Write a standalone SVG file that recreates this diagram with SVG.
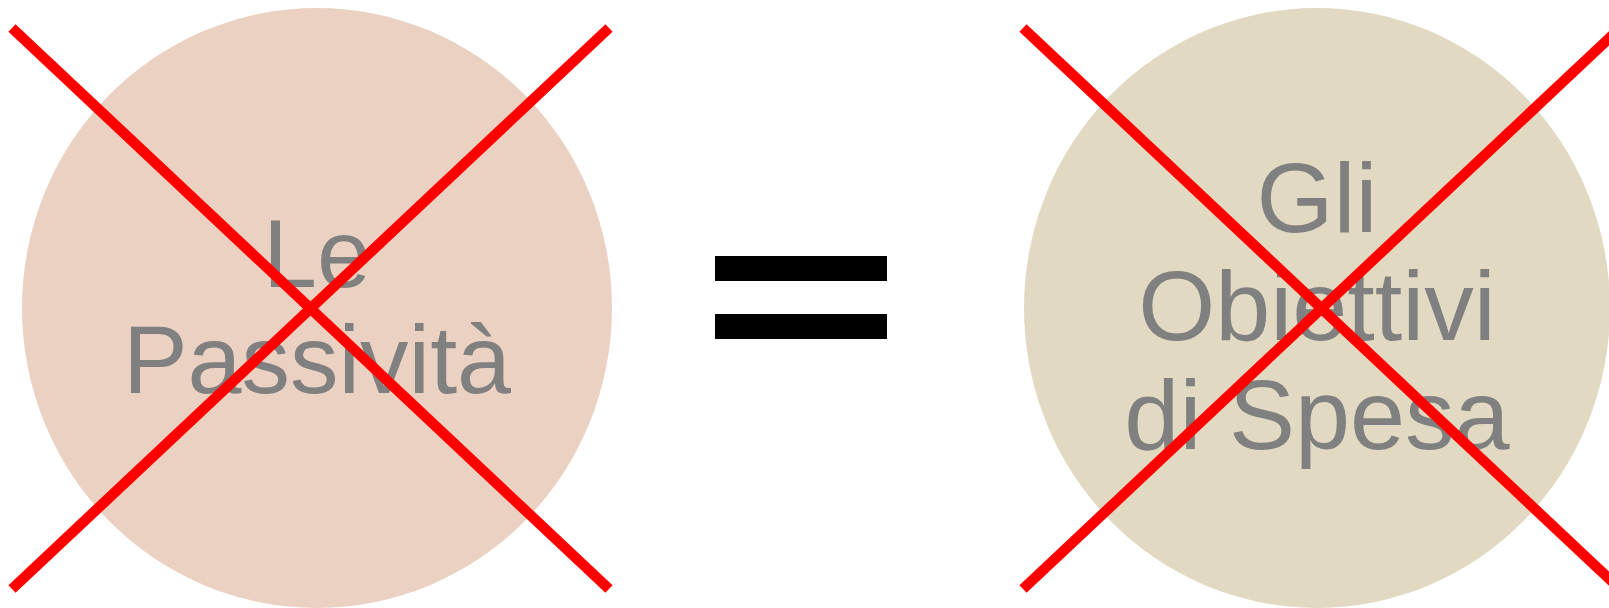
<svg xmlns="http://www.w3.org/2000/svg" width="1609" height="608" viewBox="0 0 1609 608">
<style>
.lbl{font-family:"Liberation Sans",Arial,sans-serif;fill:#808080;text-anchor:middle}
.x{stroke:#FF0000;stroke-width:10.5;fill:none}
.eq{fill:#000000}
</style>
<rect width="1609" height="608" fill="#FFFFFF"/>
<g id="node-passivita">
<ellipse cx="317" cy="308" rx="295" ry="300" fill="#EBD1C2"/>
<text class="lbl" x="317" y="287" font-size="97">Le</text>
<text class="lbl" x="317" y="393" font-size="97">Passività</text>
</g>
<g id="node-equals">
<rect class="eq" x="715" y="256" width="172" height="25"/>
<rect class="eq" x="715" y="314" width="172" height="25"/>
</g>
<g id="node-obiettivi">
<ellipse cx="1317" cy="308" rx="293" ry="300" fill="#E1D9C1"/>
<text class="lbl" x="1317" y="232" font-size="99">Gli</text>
<text class="lbl" x="1317" y="340" font-size="99">Obiettivi</text>
<text class="lbl" x="1317" y="449" font-size="99">di Spesa</text>
</g>
<g id="connectors">
<line class="x" x1="12" y1="28" x2="609" y2="589"/>
<line class="x" x1="12" y1="589" x2="609" y2="28"/>
<line class="x" x1="1023" y1="28" x2="1620" y2="589"/>
<line class="x" x1="1023" y1="589" x2="1620" y2="28"/>
</g>
</svg>
